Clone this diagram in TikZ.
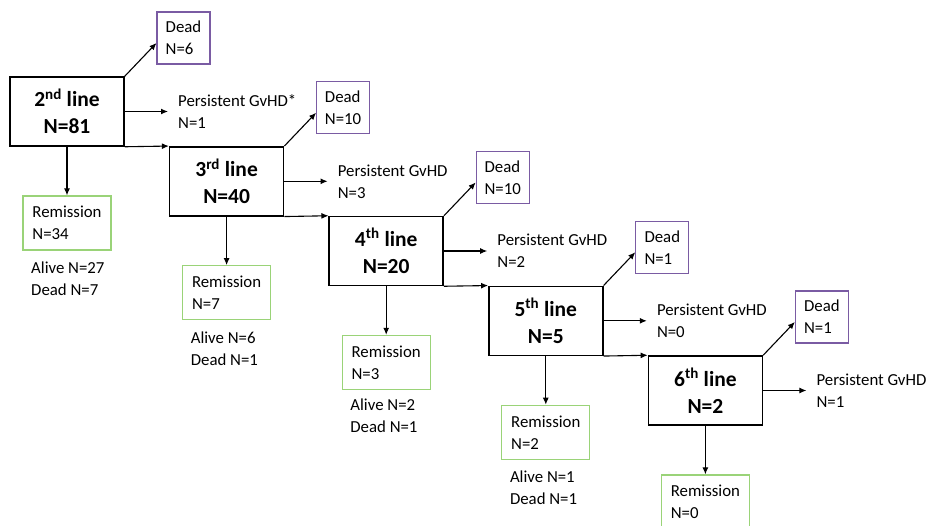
\documentclass[tikz,border=0pt]{standalone}
\usepackage{fontspec}
\setmainfont{Carlito}
\usetikzlibrary{arrows.meta}
\definecolor{deadc}{HTML}{7A5BA3}
\definecolor{remc}{HTML}{9AD378}
\tikzstyle{linebox}=[draw, line width=1.5pt, minimum width=114pt, minimum height=69pt, align=center, font=\fontsize{21.5}{27}\selectfont\bfseries]
\tikzstyle{deadbox}=[draw=deadc, line width=1.1pt, minimum width=53pt, minimum height=52pt, align=left, inner xsep=8pt, font=\fontsize{16.8}{22}\selectfont]
\tikzstyle{rembox}=[draw=remc, line width=1.3pt, minimum width=88pt, minimum height=54pt, align=left, font=\fontsize{16.8}{22}\selectfont]
\tikzstyle{gvhd}=[align=left, anchor=west, inner xsep=10pt, font=\fontsize{16.8}{22}\selectfont]
\tikzstyle{outc}=[align=left, anchor=west, inner sep=0pt, font=\fontsize{16.8}{22}\selectfont]
\tikzstyle{arr}=[-{Latex[length=7pt, width=6pt]}, line width=1.1pt]

\begin{document}
\begin{tikzpicture}[x=1pt, y=-1pt]
\useasboundingbox (0,0) rectangle (928,525);
\clip (0,0) rectangle (928,525);
% treatment lines
\node at (67,111.5)[linebox](b2){2\textsuperscript{nd} line\\N=81};
\node at (226.6,181.3)[linebox](b3){3\textsuperscript{rd} line\\N=40};
\node at (386.2,251)[linebox](b4){4\textsuperscript{th} line\\N=20};
\node at (545.8,320.8)[linebox](b5){5\textsuperscript{th} line\\N=5};
\node at (705.4,390.5)[linebox](b6){6\textsuperscript{th} line\\N=2};
% deaths
\node at (183.5,38)[deadbox](d2){Dead\\N=6};
\node at (343.1,107.8)[deadbox](d3){Dead\\N=10};
\node at (502.7,177.5)[deadbox](d4){Dead\\N=10};
\node at (662.3,247.3)[deadbox](d5){Dead\\N=1};
\node at (821.9,317)[deadbox](d6){Dead\\N=1};
% persistent GvHD
\node at (168,111.5)[gvhd](g2){Persistent GvHD*\\N=1};
\node at (327.6,181.3)[gvhd](g3){Persistent GvHD\\N=3};
\node at (487.2,251)[gvhd](g4){Persistent GvHD\\N=2};
\node at (646.8,320.8)[gvhd](g5){Persistent GvHD\\N=0};
\node at (806.4,390.5)[gvhd](g6){Persistent GvHD\\N=1};
% remission
\node at (67,223)[rembox](r2){Remission\\N=34};
\node at (226.6,292.8)[rembox](r3){Remission\\N=7};
\node at (386.2,362.5)[rembox](r4){Remission\\N=3};
\node at (545.8,432.3)[rembox](r5){Remission\\N=2};
\node at (705.4,502)[rembox](r6){Remission\\N=0};
\node at (31,278.5)[outc](a2){Alive N=27\\Dead N=7};
\node at (190.6,348.3)[outc](a3){Alive N=6\\Dead N=1};
\node at (350.2,416)[outc](a4){Alive N=2\\Dead N=1};
\node at (509.8,487.8)[outc](a5){Alive N=1\\Dead N=1};
% arrows
\draw[arr] (b2.north east)--([yshift=-5pt]d2.west);
\draw[arr] (b3.north east)--([yshift=-5pt]d3.west);
\draw[arr] (b4.north east)--([yshift=-5pt]d4.west);
\draw[arr] (b5.north east)--([yshift=-5pt]d5.west);
\draw[arr] (b6.north east)--([yshift=-5pt]d6.west);
\draw[arr] (b2.east)--(g2.west);
\draw[arr] (b3.east)--(g3.west);
\draw[arr] (b4.east)--(g4.west);
\draw[arr] (b5.east)--(g5.west);
\draw[arr] (b6.east)--(g6.west);
\draw[arr] (b2.south)--(r2.north);
\draw[arr] (b3.south)--(r3.north);
\draw[arr] (b4.south)--(r4.north);
\draw[arr] (b5.south)--(r5.north);
\draw[arr] (b6.south)--(r6.north);
\draw[arr] (b2.south east)--(b3.north west);
\draw[arr] (b3.south east)--(b4.north west);
\draw[arr] (b4.south east)--(b5.north west);
\draw[arr] (b5.south east)--(b6.north west);
\end{tikzpicture}
\end{document}
